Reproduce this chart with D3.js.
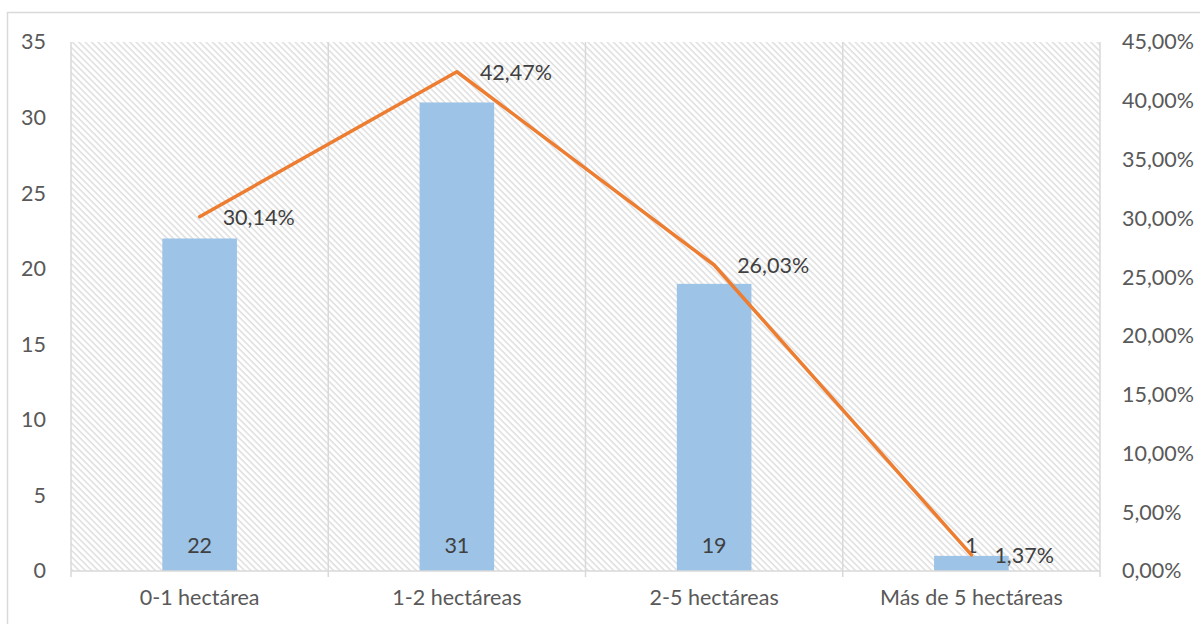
<!DOCTYPE html>
<html>
<head>
<meta charset="utf-8">
<script src="https://cdn.jsdelivr.net/npm/d3@7/dist/d3.min.js"></script>
<style>
  html, body { margin: 0; padding: 0; background: #fff; }
  svg { display: block; }
  text { font-family: Lato, "Open Sans", sans-serif; fill: #595959; }
</style>
</head>
<body>
<svg id="chart" width="1200" height="624"></svg>
<script>
// Farm size categories, number of producers and their share
const categories = ["0-1 hectárea", "1-2 hectáreas", "2-5 hectáreas", "Más de 5 hectáreas"];
const counts = [22, 31, 19, 1];
const shares = [30.14, 42.47, 26.03, 1.37];
const countTicks = [0, 5, 10, 15, 20, 25, 30, 35];
const shareTicks = [0, 5, 10, 15, 20, 25, 30, 35, 40, 45];

const svg = d3.select("#chart");
const W = 1200, H = 624;
const m = { left: 71, right: 100, top: 42, bottom: 53 };
const plotW = W - m.left - m.right;
const plotH = H - m.top - m.bottom;
const fontSize = 21.5;
const fontFam = "Lato, 'Open Sans', sans-serif";
const fmt = v => v.toFixed(2).replace(".", ",") + "%";

// outer chart frame
svg.append("rect")
  .attr("x", 7.5).attr("y", 12.5)
  .attr("width", W + 10).attr("height", H + 10)
  .attr("fill", "#fff").attr("stroke", "#d9d9d9").attr("stroke-width", 1.5);

// diagonal hatch fill for the plot area
const defs = svg.append("defs");
const pat = defs.append("pattern")
  .attr("id", "hatch")
  .attr("patternUnits", "userSpaceOnUse")
  .attr("width", 4.5).attr("height", 4.5)
  .attr("patternTransform", "rotate(-45)");
pat.append("rect").attr("width", 4.5).attr("height", 4.5).attr("fill", "#fff");
pat.append("line")
  .attr("x1", 1).attr("y1", 0).attr("x2", 1).attr("y2", 4.5)
  .attr("stroke", "#dcdcdc").attr("stroke-width", 1.4);

const g = svg.append("g").attr("transform", `translate(${m.left},${m.top})`);

g.append("rect")
  .attr("width", plotW).attr("height", plotH)
  .attr("fill", "url(#hatch)");

const x = d3.scaleBand().domain(categories).range([0, plotW]).paddingInner(0).paddingOuter(0);
const yL = d3.scaleLinear().domain([0, 35]).range([plotH, 0]);
const yR = d3.scaleLinear().domain([0, 45]).range([plotH, 0]);

// vertical gridlines at category boundaries (with outward tick marks)
const bounds = categories.map(c => x(c)).concat([plotW]);
g.selectAll("line.vgrid").data(bounds).join("line")
  .attr("class", "vgrid")
  .attr("x1", d => d).attr("x2", d => d)
  .attr("y1", 0).attr("y2", plotH + 6)
  .attr("stroke", "#d9d9d9").attr("stroke-width", 1.5);

// bars
const barW = x.bandwidth() * 0.29;
g.selectAll("rect.bar").data(counts).join("rect")
  .attr("class", "bar")
  .attr("x", (d, i) => x(categories[i]) + x.bandwidth() / 2 - barW / 2)
  .attr("y", d => yL(d))
  .attr("width", barW)
  .attr("height", d => plotH - yL(d))
  .attr("fill", "#9dc3e6");

// category axis line
g.append("line")
  .attr("x1", 0).attr("x2", plotW)
  .attr("y1", plotH).attr("y2", plotH)
  .attr("stroke", "#d9d9d9").attr("stroke-width", 1.5);

// left axis labels
const axL = g.append("g").call(d3.axisLeft(yL).tickValues(countTicks).tickSize(0).tickPadding(25));
axL.select(".domain").remove();
axL.selectAll("text").attr("font-size", fontSize).attr("fill", "#595959")
  .style("font-family", fontFam);

// right axis labels
const axR = g.append("g").attr("transform", `translate(${plotW},0)`)
  .call(d3.axisRight(yR).tickValues(shareTicks).tickSize(0).tickPadding(22).tickFormat(fmt));
axR.select(".domain").remove();
axR.selectAll("text").attr("font-size", fontSize).attr("fill", "#595959")
  .style("font-family", fontFam);

// category labels
const axB = g.append("g").attr("transform", `translate(0,${plotH})`)
  .call(d3.axisBottom(x).tickSize(0).tickPadding(19));
axB.select(".domain").remove();
axB.selectAll("text").attr("font-size", fontSize).attr("fill", "#595959")
  .style("font-family", fontFam);

// bar value labels near the base
g.selectAll("text.barlabel").data(counts).join("text")
  .attr("class", "barlabel")
  .attr("x", (d, i) => x(categories[i]) + x.bandwidth() / 2)
  .attr("y", plotH - 18)
  .attr("text-anchor", "middle")
  .attr("font-size", fontSize)
  .attr("fill", "#404040")
  .style("fill", "#404040")
  .text(d => d);

// share line
const pts = shares.map((s, i) => [x(categories[i]) + x.bandwidth() / 2, yR(s)]);
g.append("path")
  .attr("d", d3.line()(pts))
  .attr("fill", "none")
  .attr("stroke", "#ed7d31")
  .attr("stroke-width", 3.5)
  .attr("stroke-linejoin", "round")
  .attr("stroke-linecap", "round");

// share labels to the right of each point
g.selectAll("text.linelabel").data(shares).join("text")
  .attr("class", "linelabel")
  .attr("x", (d, i) => pts[i][0] + 23)
  .attr("y", (d, i) => pts[i][1] + 8)
  .attr("font-size", fontSize)
  .style("fill", "#404040")
  .text(d => fmt(d));
</script>
</body>
</html>
